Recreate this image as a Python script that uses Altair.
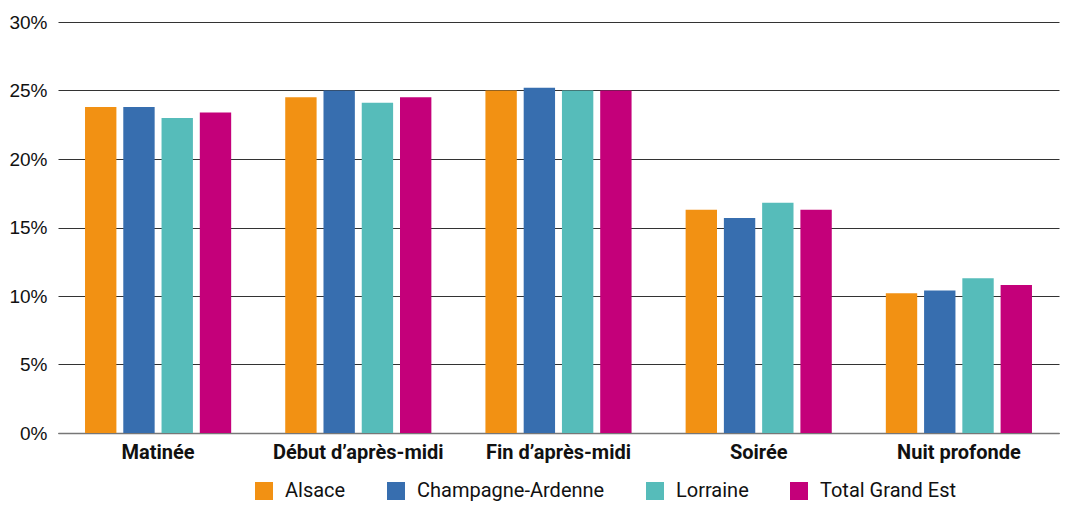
import altair as alt
import pandas as pd

periods = ["Matinée", "Début d’après-midi", "Fin d’après-midi", "Soirée", "Nuit profonde"]
regions = ["Alsace", "Champagne-Ardenne", "Lorraine", "Total Grand Est"]
colors = ["#F29113", "#376EAF", "#56BCBA", "#C4007A"]

alsace = [23.8, 24.5, 25.0, 16.3, 10.2]
champagne = [23.8, 25.0, 25.2, 15.7, 10.4]
lorraine = [23.0, 24.1, 25.0, 16.8, 11.3]
total = [23.4, 24.5, 25.0, 16.3, 10.8]

series = [alsace, champagne, lorraine, total]
rows = []
for r, vals in zip(regions, series):
    for p, v in zip(periods, vals):
        rows.append({"periode": p, "region": r, "valeur": v / 100})
df = pd.DataFrame(rows)

FONT = "Roboto"

chart = alt.Chart(df).mark_bar().encode(
    x=alt.X("periode:N", sort=periods, title=None,
            scale=alt.Scale(paddingInner=0.27, paddingOuter=0.135),
            axis=alt.Axis(labelAngle=0, labelFont=FONT, labelFontSize=20,
                          labelFontWeight="bold", labelColor="#111",
                          ticks=False, labelPadding=9, domainColor="#777",
                          domainWidth=1.5, labelLimit=300)),
    xOffset=alt.XOffset("region:N", sort=regions,
                        scale=alt.Scale(paddingInner=0.18)),
    y=alt.Y("valeur:Q", title=None,
            scale=alt.Scale(domain=[0, 0.30]),
            axis=alt.Axis(format=".0%", values=[0, 0.05, 0.10, 0.15, 0.20, 0.25, 0.30],
                          labelFont="Liberation Sans", labelFontSize=19, labelColor="#111",
                          ticks=False, domain=False, labelPadding=11,
                          gridColor="#333", gridWidth=1)),
    color=alt.Color("region:N", sort=regions,
                    scale=alt.Scale(domain=regions, range=colors),
                    legend=alt.Legend(title=None, orient="none", direction="horizontal",
                                      legendX=196, legendY=459,
                                      symbolType="square", symbolSize=324,
                                      symbolStrokeWidth=0, symbolOpacity=1,
                                      labelFont=FONT, labelFontSize=20,
                                      labelColor="#111", labelOffset=11,
                                      labelLimit=400, columnPadding=40)),
).properties(
    width=1001, height=411,
    autosize=alt.AutoSizeParams(type="none"),
    padding={"left": 50, "top": 14, "right": 2, "bottom": 72},
).configure_view(stroke=None)

chart.save("out.html", embed_options={"renderer": "svg", "actions": False})
